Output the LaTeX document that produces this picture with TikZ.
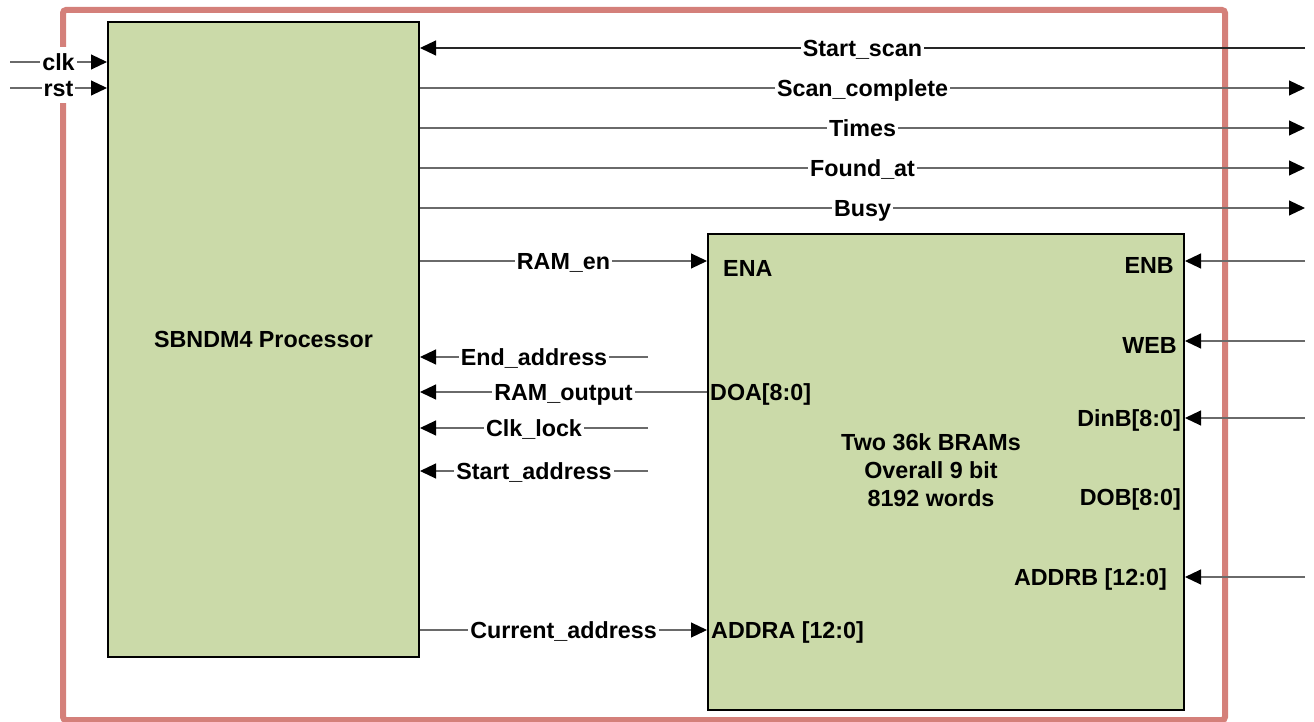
\documentclass[tikz,border=0pt]{standalone}
\usepackage{fontspec}
\setmainfont{Liberation Sans}
\usetikzlibrary{arrows.meta}
\definecolor{framered}{HTML}{D4807A}
\definecolor{blockgreen}{HTML}{CBDAA9}
\definecolor{wire}{HTML}{6A6A6A}
\tikzset{
  x=1pt, y=-1pt,
  every node/.style={font=\fontsize{23.3}{28}\selectfont\bfseries},
  block/.style={draw=black, line width=2pt, fill=blockgreen, rectangle, inner sep=0pt},
  sig/.style={draw=wire, line width=1.1pt, -{Triangle[length=16pt,width=15pt,color=black]}},
  sigdark/.style={sig, draw=black!85},
  lbl/.style={fill=white, inner xsep=2pt, inner ysep=2pt, text height=16.7pt, text depth=0pt},
  pin/.style={inner sep=0pt},
}
\begin{document}
\begin{tikzpicture}
\useasboundingbox (0,0) rectangle (1314,722);

% enclosing frame
\draw[framered, line width=6pt, rounded corners=3pt] (63,10) rectangle (1225,720);

% blocks
\node[block, minimum width=311pt, minimum height=635pt] (proc) at (263.5,339.5) {};
\node (proctxt) at (263.5,339.5) {SBNDM4 Processor};
\node[block, minimum width=476pt, minimum height=476pt] (bram) at (946,472) {};

% BRAM port names
\node[pin, anchor=base west] (ena)   at (723,276.3) {ENA};
\node[pin, anchor=base west] (doa)   at (710,400.3) {DOA[8:0]};
\node[pin, anchor=base west] (addra) at (711,638.3) {ADDRA [12:0]};
\node[pin, anchor=base east] (enb)   at (1174,273.3) {ENB};
\node[pin, anchor=base east] (web)   at (1177,353.3) {WEB};
\node[pin, anchor=base east] (dinb)  at (1181,426.3) {DinB[8:0]};
\node[pin, anchor=base east] (dob)   at (1181,505.3) {DOB[8:0]};
\node[pin, anchor=base east] (addrb) at (1167,585.3) {ADDRB [12:0]};
\node[align=center, inner sep=0pt] (bramtxt) at (931,470) {Two 36k BRAMs\\Overall 9 bit\\8192 words};

% free ends of the wires
\coordinate (clkin) at (10,62);
\coordinate (rstin) at (10,88);
\coordinate (ssin)  at (1305,48);
\coordinate (scout) at (1305,88);
\coordinate (tmout) at (1305,128);
\coordinate (faout) at (1305,168);
\coordinate (bsout) at (1305,208);
\coordinate (eain)  at (648,357);
\coordinate (clin)  at (648,428);
\coordinate (sain)  at (648,471);
\coordinate (enbin) at (1305,261);
\coordinate (webin) at (1305,341);
\coordinate (dinin) at (1305,418);
\coordinate (adbin) at (1305,577);

% processor <-> outside world
\draw[sigdark] (ssin) -- node[lbl] (lss) {Start\_scan} (proc.east |- ssin);
\draw[sig] (proc.east |- scout) -- node[lbl] (lsc) {Scan\_complete} (scout);
\draw[sig] (proc.east |- tmout) -- node[lbl] (ltm) {Times} (tmout);
\draw[sig] (proc.east |- faout) -- node[lbl] (lfa) {Found\_at} (faout);
\draw[sig] (proc.east |- bsout) -- node[lbl] (lbs) {Busy} (bsout);

% processor <-> BRAM port A
\draw[sig] (proc.east |- 0,261) -- node[lbl] (len) {RAM\_en} (bram.west |- 0,261);
\draw[sig] (eain) -- node[lbl] (lea) {End\_address} (proc.east |- eain);
\draw[sig] (bram.west |- 0,392) -- node[lbl] (lro) {RAM\_output} (proc.east |- 0,392);
\draw[sig] (clin) -- node[lbl] (lcl) {Clk\_lock} (proc.east |- clin);
\draw[sig] (sain) -- node[lbl] (lsa) {Start\_address} (proc.east |- sain);
\draw[sig] (proc.east |- 0,630) -- node[lbl] (lca) {Current\_address} (bram.west |- 0,630);

% BRAM port B inputs
\draw[sig] (enbin) -- (bram.east |- enbin);
\draw[sig] (webin) -- (bram.east |- webin);
\draw[sig] (dinin) -- (bram.east |- dinin);
\draw[sig] (adbin) -- (bram.east |- adbin);

% clock and reset
\draw[sig] (clkin) -- node[lbl, inner ysep=7pt] (lclk) {clk} (proc.west |- clkin);
\draw[sig] (rstin) -- node[lbl, inner ysep=7pt] (lrst) {rst} (proc.west |- rstin);
\end{tikzpicture}
\end{document}
